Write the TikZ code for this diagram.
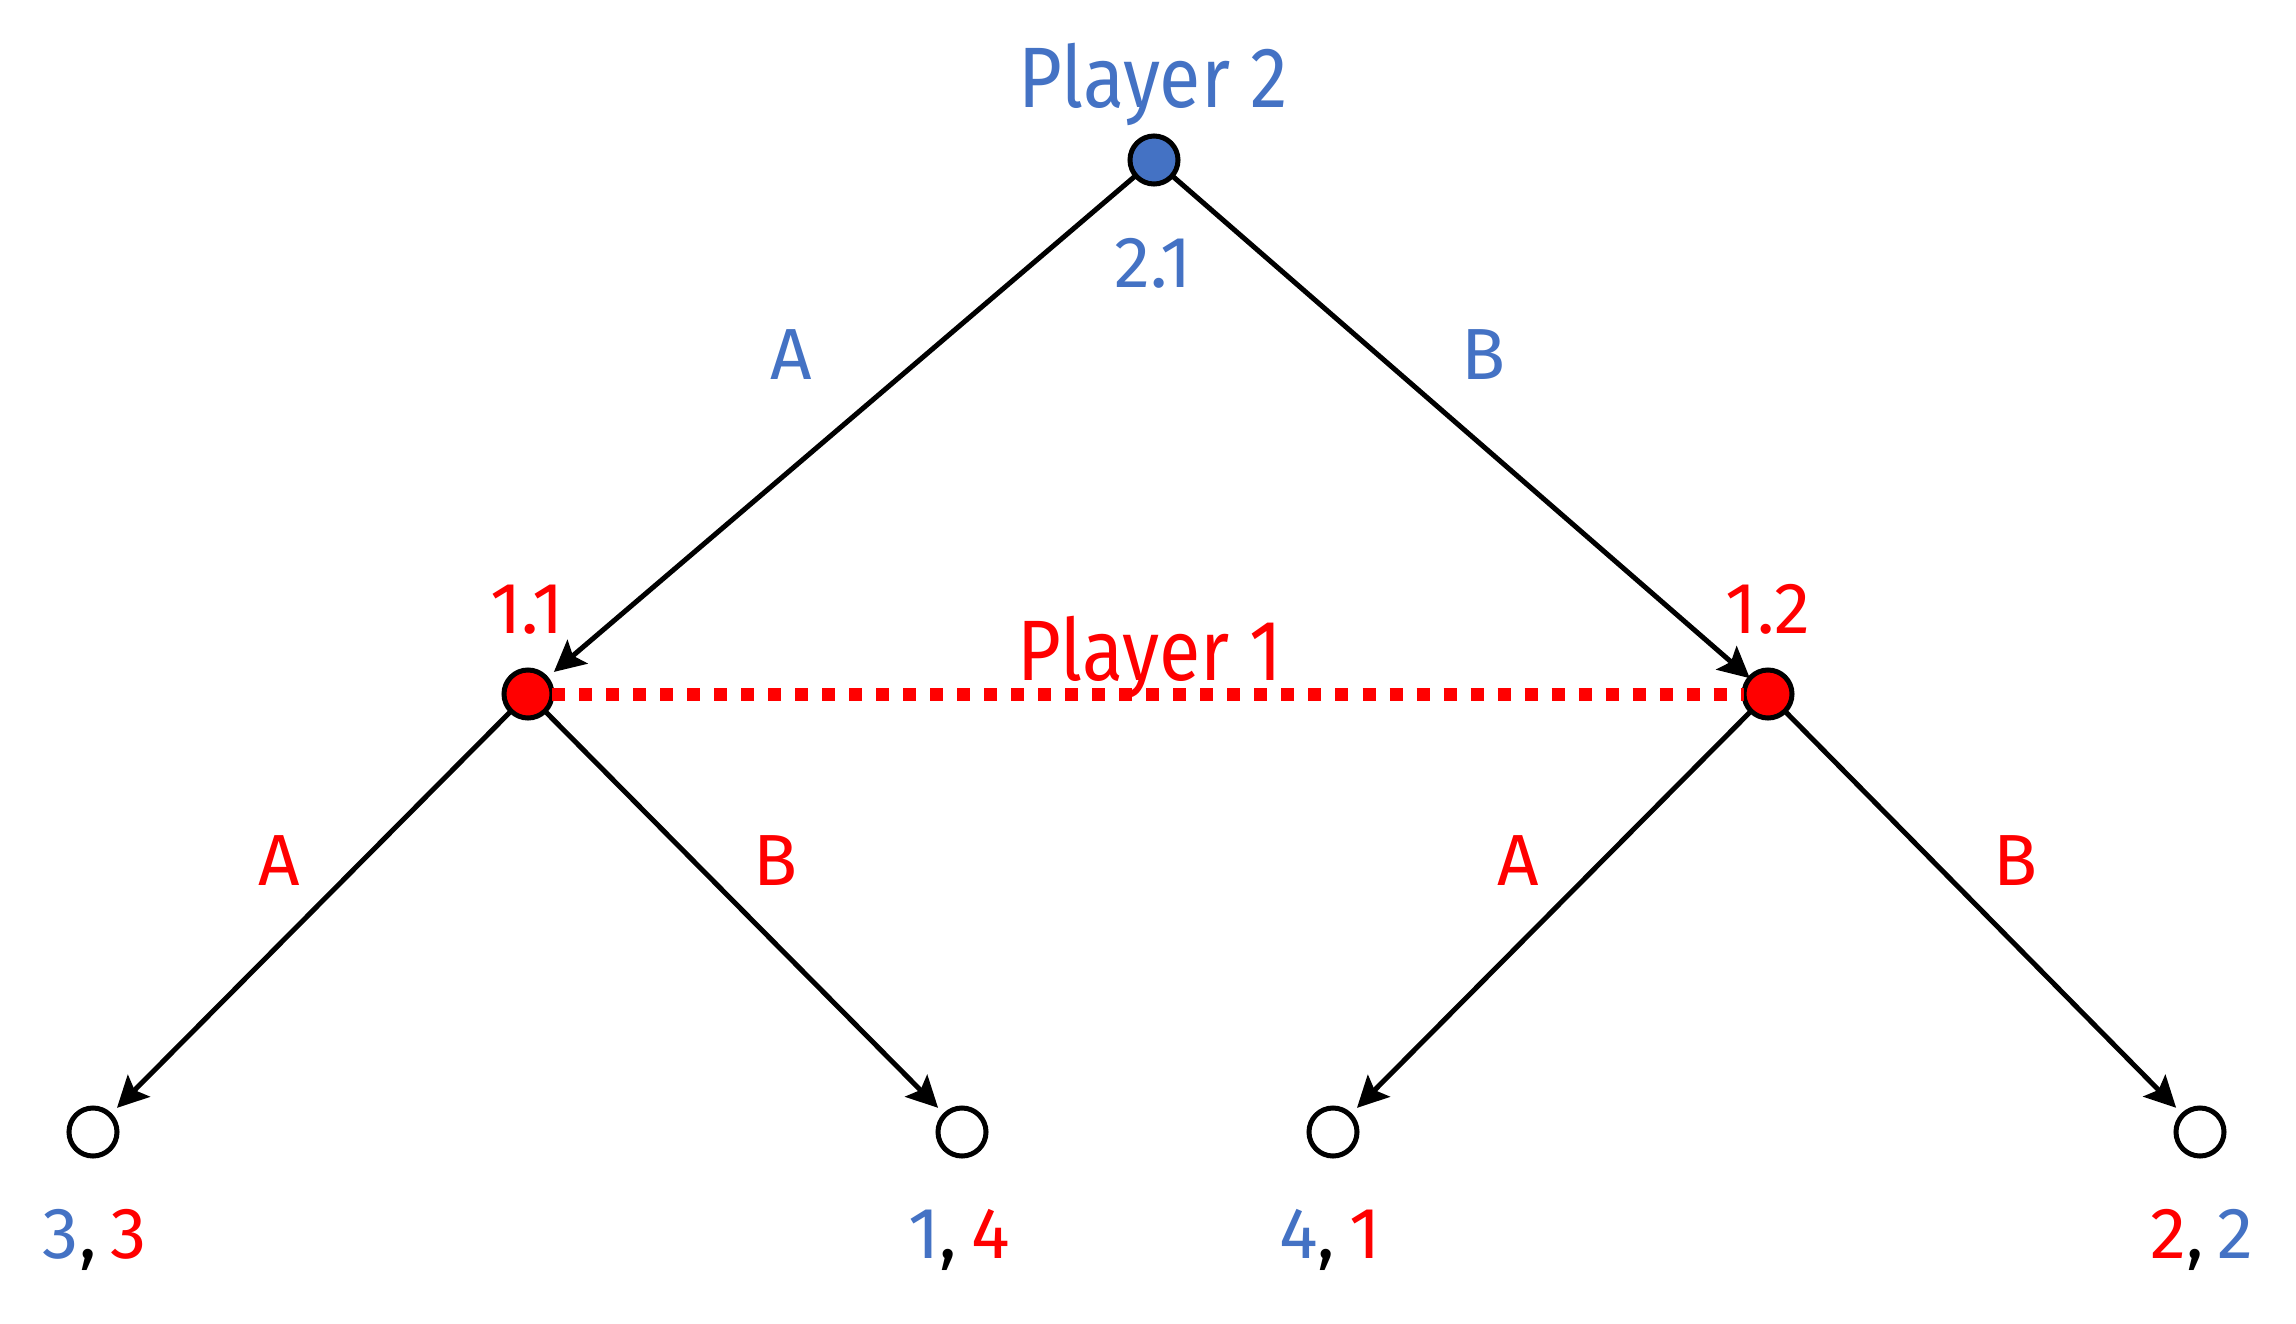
\documentclass[tikz,border=0pt]{standalone}
\usepackage{fontspec}
\setmainfont{Fira Sans}
\newfontfamily\narrowfira[FakeStretch=0.88]{Fira Sans}
\usetikzlibrary{arrows.meta}
\definecolor{pblue}{HTML}{4472C4}
\definecolor{pred}{HTML}{FF0000}
\tikzset{
  dec/.style={circle, draw=black, line width=0.05cm, minimum size=0.48cm, inner sep=0pt, outer sep=0pt},
  edge/.style={draw=black, line width=0.05cm, -{Stealth[length=0.31cm, width=0.31cm, inset=0.06cm]}, shorten >=0.1cm},
  big/.style={font=\narrowfira\fontsize{24.4}{28}\selectfont, inner sep=0pt, anchor=base},
  lab/.style={font=\fontsize{20.6}{24}\selectfont, inner sep=0pt, anchor=base},
}
\newcommand{\payoff}[2]{#1,\hspace{0.2em}#2}
\begin{document}
\begin{tikzpicture}[x=0.01cm, y=-0.01cm]
\useasboundingbox (0,0) rectangle (2296,1324);
% decision nodes
\node[dec, fill=pblue] (r) at (1154,160) {};
\node[dec, fill=pred] (n1) at (528,694) {};
\node[dec, fill=pred] (n2) at (1768,694) {};
% leaves
\node[dec, fill=white] (l1) at (93,1132) {};
\node[dec, fill=white] (l2) at (962,1132) {};
\node[dec, fill=white] (l3) at (1333,1132) {};
\node[dec, fill=white] (l4) at (2200,1132) {};
% information set
\draw[pred, line width=0.13cm, dash pattern=on 0.13cm off 0.14cm] (n1) -- (n2);
% edges
\draw[edge] (r) -- (n1);
\draw[edge, shorten >=0cm] (r) -- (n2);
\draw[edge] (n1) -- (l1);
\draw[edge] (n1) -- (l2);
\draw[edge] (n2) -- (l3);
\draw[edge] (n2) -- (l4);
% texts
\node[big, text=pblue] (p2) at (1153,107) {Player 2};
\node[big, text=pred] (p1) at (1150,680) {Player 1};
\node[lab, text=pblue] (t21) at (1153,287) {2.1};
\node[lab, text=pred] (t11) at (527,633) {1.1};
\node[lab, text=pred] (t12) at (1768,633) {1.2};
\node[lab, text=pblue] (ea) at (791,379) {A};
\node[lab, text=pblue] (eb) at (1484,379) {B};
\node[lab, text=pred] (ea1) at (279,885) {A};
\node[lab, text=pred] (eb1) at (776,885) {B};
\node[lab, text=pred] (ea2) at (1518,885) {A};
\node[lab, text=pred] (eb2) at (2016,885) {B};
\node[lab] (v1) at (95,1258) {\payoff{\textcolor{pblue}{3}}{\textcolor{pred}{3}}};
\node[lab] (v2) at (959,1258) {\payoff{\textcolor{pblue}{1}}{\textcolor{pred}{4}}};
\node[lab] (v3) at (1330,1258) {\payoff{\textcolor{pblue}{4}}{\textcolor{pred}{1}}};
\node[lab] (v4) at (2202,1258) {\payoff{\textcolor{pred}{2}}{\textcolor{pblue}{2}}};
\end{tikzpicture}
\end{document}
